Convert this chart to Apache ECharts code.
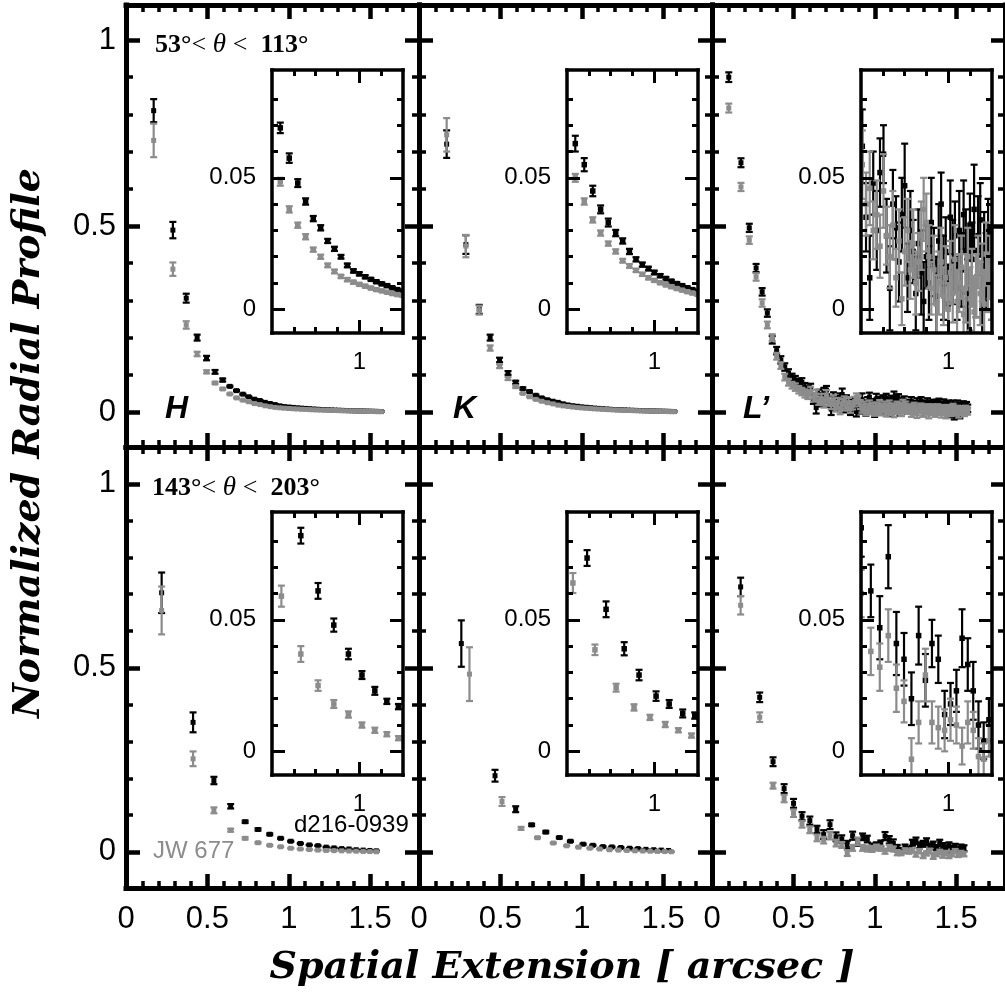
<!DOCTYPE html>
<html><head><meta charset="utf-8">
<script src="https://cdn.jsdelivr.net/npm/echarts@6/dist/echarts.min.js"></script>
<style>html,body{margin:0;padding:0;background:#fff}#c{width:1005px;height:1005px}</style>
</head><body><div id="c"></div>
<script>
// ---------------- DATA ----------------
// tick values
const mainXTicks = [0, 0.5, 1, 1.5];
const mainXMinorTicks = [0.1,0.2,0.3,0.4,0.6,0.7,0.8,0.9,1.1,1.2,1.3,1.4,1.6,1.7];
const mainYTicks = [0, 0.5, 1];
const mainYMinorTicks = [0.1,0.2,0.3,0.4,0.6,0.7,0.8,0.9];
const insetXTicks = [1];
const insetXMinorTicks = [0.7,0.8,0.9,1.1];
const insetYTicks = [0, 0.05];
const insetYMinorTicks = [0.01,0.02,0.03,0.04,0.06,0.07,0.08];

// top row (53 < theta < 113), H and K share radii
const xTopHK = [0.170,0.288,0.370,0.437,0.495,0.547,0.594,0.638,0.679,0.718,
0.754,0.789,0.823,0.855,0.886,0.916,0.945,0.973,1.000,1.027,
1.053,1.078,1.103,1.127,1.151,1.174,1.197,1.219,1.241,1.263,
1.284,1.305,1.326,1.346,1.366,1.385,1.405,1.424,1.443,1.461,
1.480,1.498,1.516,1.533,1.551,1.568];
const hTopBlack = [0.81,0.489,0.306,0.20,0.145,0.108,0.086,
0.069,0.0575,0.048,0.041,0.0345,0.031,0.026,0.023,0.020,0.0167,
0.0146,0.0135,0.0124,0.0114,0.0105,0.0097,0.009,0.0082,0.0075,0.0069,
0.0064,0.006,0.0056,0.0052,0.0048,0.0045,0.0042,0.0039,0.0036,0.0033,
0.003,0.0028,0.0026,0.0024,0.0022,0.002,0.0018,0.0016,0.0015];
const hTopBlackErr = [0.031,0.022,0.012,0.008,0.006,0.005,0.004,0.002,0.0018,0.0015,
0.0012,0.001,0.001,0.0008,0.0008,0.0007,0.0007,0.0006,0.0006,0.0006,
0.0005,0.0005,0.0005,0.0005,0.0004,0.0004,0.0004,0.0004,0.0004,0.0004,
0.0003,0.0003,0.0003,0.0003,0.0003,0.0003,0.0003,0.0003,0.0003,0.0003,
0.0003,0.0003,0.0003,0.0003,0.0003,0.0003];
const hTopGray = [0.73,0.384,0.234,0.156,0.108,0.078,0.062,
0.0485,0.038,0.032,0.0276,0.0227,0.020,0.0167,0.0144,0.0125,0.0113,
0.0103,0.0095,0.0088,0.0081,0.0075,0.007,0.0065,0.006,0.0056,0.0053,
0.005,0.0047,0.0044,0.0041,0.0038,0.0035,0.0032,0.003,0.0028,0.0026,
0.0024,0.0022,0.002,0.0018,0.0016,0.0014,0.0012,0.001,0.0009];
const hTopGrayErr = [0.045,0.018,0.010,0.006,0.004,0.003,0.0025,0.0015,0.0012,0.001,
0.001,0.0008,0.0008,0.0007,0.0007,0.0006,0.0006,0.0006,0.0005,0.0005,
0.0005,0.0005,0.0004,0.0004,0.0004,0.0004,0.0004,0.0004,0.0003,0.0003,
0.0003,0.0003,0.0003,0.0003,0.0003,0.0003,0.0003,0.0003,0.0003,0.0003,
0.0003,0.0003,0.0003,0.0003,0.0003,0.0003];
const kTopBlack = [0.72,0.45,0.276,0.20,0.14,0.105,0.08,
0.063,0.055,0.045,0.038,0.033,0.029,0.026,0.022,0.019,0.017,
0.0155,0.014,0.0128,0.0117,0.0107,0.0098,0.009,0.0082,0.0075,0.0068,
0.0064,0.006,0.0056,0.0052,0.0048,0.0045,0.0042,0.0039,0.0036,0.0033,
0.003,0.0028,0.0026,0.0024,0.0022,0.002,0.0018,0.0016,0.0015];
const kTopBlackErr = [0.037,0.025,0.012,0.008,0.006,0.005,0.004,0.003,0.0025,0.002,
0.0015,0.0015,0.0012,0.001,0.001,0.0008,0.0008,0.0007,0.0007,0.0006,
0.0006,0.0005,0.0005,0.0005,0.0005,0.0004,0.0004,0.0004,0.0004,0.0004,
0.0003,0.0003,0.0003,0.0003,0.0003,0.0003,0.0003,0.0003,0.0003,0.0003,
0.0003,0.0003,0.0003,0.0003,0.0003,0.0003];
const kTopGray = [0.745,0.446,0.274,0.172,0.123,0.09,0.068,
0.050,0.041,0.034,0.029,0.025,0.022,0.0185,0.0165,0.0148,0.0133,
0.012,0.011,0.0101,0.0093,0.0086,0.0079,0.0073,0.0067,0.0062,0.0057,
0.0053,0.0049,0.0045,0.0042,0.0039,0.0036,0.0033,0.003,0.0028,0.0026,
0.0024,0.0022,0.002,0.0018,0.0016,0.0014,0.0012,0.001,0.0009];
const kTopGrayErr = [0.045,0.03,0.012,0.007,0.005,0.004,0.003,0.0015,0.0012,0.001,
0.001,0.0008,0.0008,0.0007,0.0007,0.0006,0.0006,0.0006,0.0005,0.0005,
0.0005,0.0005,0.0004,0.0004,0.0004,0.0004,0.0004,0.0004,0.0003,0.0003,
0.0003,0.0003,0.0003,0.0003,0.0003,0.0003,0.0003,0.0003,0.0003,0.0003,
0.0003,0.0003,0.0003,0.0003,0.0003,0.0003];

const xTopL = [0.103,0.178,0.229,0.271,0.308,0.340,0.370,0.397,0.423,0.447,
0.470,0.492,0.512,0.533,0.552,0.571,0.589,0.606,0.623,0.640,
0.656,0.672,0.687,0.703,0.717,0.732,0.746,0.760,0.774,0.787,
0.800,0.813,0.826,0.839,0.851,0.863,0.876,0.887,0.899,0.911,
0.922,0.934,0.945,0.956,0.967,0.978,0.988,0.999,1.009,1.020,
1.030,1.040,1.050,1.060,1.070,1.080,1.089,1.099,1.108,1.118,
1.127,1.136,1.146,1.155,1.164,1.173,1.182,1.191,1.199,1.208,
1.217,1.225,1.234,1.242,1.251,1.259,1.268,1.276,1.284,1.292,
1.300,1.308,1.316,1.324,1.332,1.340,1.348,1.356,1.363,1.371,
1.379,1.386,1.394,1.401,1.409,1.416,1.424,1.431,1.438,1.446,
1.453,1.460,1.467,1.474,1.481,1.488,1.496,1.503,1.509,1.516,
1.523,1.530,1.537,1.544,1.551,1.557,1.564,1.571];
const lTopBlack = [0.900,0.670,0.495,0.387,0.323,0.266,0.194,0.165,0.140,0.121,
0.105,0.093,0.086,0.078,0.080,0.066,0.059,
0.062,0.035,0.012,0.048,0.030,0.052,0.059,0.028,0.008,0.040,
0.031,0.018,0.036,0.047,0.012,0.030,0.022,0.006,0.025,0.014,
0.003,0.020,0.010,0.033,0.018,0.005,0.026,0.040,0.012,0.022,
0.002,0.035,0.018,0.028,0.008,0.030,0.015,0.036,0.022,0.004,
0.032,0.019,0.038,0.010,0.028,0.034,0.006,0.024,0.014,0.030,
0.018,0.009,
0.022,0.012,0.028,0.016,0.005,0.020,0.025,0.011,0.018,0.030,
0.014,0.008,0.021,0.017,0.026,0.010,0.019,0.013,0.024,0.006,
0.016,0.022,0.011,0.027,0.015,0.009,0.018,0.023,0.012,0.004,
0.017,0.020,0.008,-0.005,0.014,0.019,-0.010,0.006,0.012,0.021,
0.009,-0.006,0.015,0.011,0.018,0.007,0.013,0.016,0.010];
const lTopBlackErr = [0.013,0.012,0.011,0.011,0.010,0.010,0.010,0.010,0.010,0.010,
0.010,0.010,0.011,0.011,0.011,0.012,0.012,
0.014,0.013,0.016,0.012,0.015,0.013,0.011,0.014,0.016,0.013,
0.012,0.015,0.014,0.016,0.013,0.015,0.012,0.014,0.013,0.016,
0.015,0.012,0.014,0.017,0.013,0.015,0.014,0.012,0.016,0.013,
0.015,0.014,0.016,0.013,0.012,0.015,0.014,0.013,0.016,0.015,
0.012,0.014,0.017,0.013,0.015,0.014,0.016,0.013,0.015,0.012,
0.014,0.013,
0.011,0.010,0.012,0.009,0.011,0.010,0.012,0.011,0.009,0.010,
0.012,0.011,0.010,0.009,0.011,0.012,0.010,0.011,0.009,0.010,
0.012,0.011,0.010,0.009,0.011,0.012,0.010,0.011,0.009,0.010,
0.012,0.011,0.010,0.009,0.011,0.012,0.010,0.011,0.009,0.010,
0.012,0.011,0.010,0.009,0.011,0.010,0.012,0.011,0.010];
const lTopGray = [0.817,0.605,0.462,0.363,0.293,0.234,0.200,0.150,0.125,0.094,
0.080,0.072,0.067,0.060,0.055,0.050,0.046,
0.055,0.040,0.046,0.030,0.036,0.024,0.045,0.028,0.020,0.032,
0.012,0.026,0.004,0.022,0.030,0.015,0.025,0.010,0.018,0.028,
0.038,0.033,0.020,0.008,0.015,0.002,0.010,0.018,0.005,0.012,
0.000,0.014,0.006,0.019,0.003,0.010,0.016,-0.002,0.008,0.020,
0.004,0.012,-0.001,0.009,0.018,0.006,0.014,0.002,0.021,0.010,
0.016,0.007,
0.005,0.012,-0.002,0.008,0.015,0.003,-0.005,0.010,0.006,0.014,
0.001,-0.003,0.009,0.004,0.011,-0.006,0.007,0.002,0.013,0.005,
-0.002,0.008,0.012,0.000,0.006,-0.004,0.010,0.003,0.007,-0.008,
0.004,0.009,0.001,-0.003,0.006,0.011,-0.001,0.005,0.002,0.008,
-0.004,0.003,0.007,0.000,0.005,-0.002,0.006,0.004,0.002];
const lTopGrayErr = [0.012,0.011,0.010,0.010,0.010,0.009,0.009,0.009,0.009,0.009,
0.009,0.009,0.010,0.010,0.010,0.011,0.011,
0.013,0.012,0.014,0.011,0.013,0.012,0.014,0.011,0.012,0.013,
0.011,0.012,0.010,0.013,0.012,0.011,0.013,0.012,0.011,0.013,
0.012,0.011,0.012,0.010,0.013,0.011,0.012,0.013,0.011,0.012,
0.010,0.012,0.011,0.013,0.012,0.011,0.012,0.010,0.013,0.011,
0.012,0.011,0.013,0.012,0.010,0.012,0.011,0.013,0.012,0.011,
0.012,0.011,
0.010,0.009,0.011,0.008,0.010,0.009,0.011,0.010,0.008,0.009,
0.011,0.010,0.009,0.008,0.010,0.011,0.009,0.010,0.008,0.009,
0.011,0.010,0.009,0.008,0.010,0.011,0.009,0.010,0.008,0.009,
0.011,0.010,0.009,0.008,0.010,0.011,0.009,0.010,0.008,0.009,
0.011,0.010,0.009,0.008,0.010,0.009,0.011,0.010,0.009];

// bottom row (143 < theta < 203)
const xBotH = [0.219,0.412,0.540,0.643,0.732,0.811,0.883,0.950,1.012,1.071,
1.126,1.179,1.230,1.278,1.325,1.370,1.414,1.457,1.498,1.538];
const hBotBlack = [0.704,0.352,0.194,0.124,0.082,0.061,0.048,0.037,0.029,0.023,
0.019,0.017,0.013,0.011,0.009,0.008,0.006,0.005,0.004,0.003];
const hBotBlackErr = [0.055,0.027,0.010,0.006,0.003,0.003,0.0025,0.002,0.0015,0.0015,
0.001,0.001,0.001,0.0008,0.0008,0.0008,0.0006,0.0006,0.0006,0.0006];
const hBotGray = [0.656,0.253,0.113,0.059,0.037,0.025,0.018,0.014,0.010,0.008,
0.0065,0.005,0.004,0.0035,0.003,0.0025,0.002,0.0015,0.001,0.0005];
const hBotGrayErr = [0.065,0.020,0.008,0.004,0.003,0.002,0.0015,0.0012,0.001,0.001,
0.0008,0.0008,0.0006,0.0006,0.0006,0.0005,0.0005,0.0005,0.0005,0.0005];

const xBotKBlack = [0.26,0.467,0.594,0.692,0.779,0.862,0.930,1.008,1.068,1.130,
1.185,1.240,1.294,1.345,1.394,1.442,1.488,1.533];
const kBotBlack = [0.566,0.207,0.116,0.0735,0.054,0.039,0.029,0.021,0.018,0.0144,
0.0136,0.012,0.010,0.009,0.007,0.006,0.005,0.004];
const kBotBlackErr = [0.063,0.016,0.008,0.003,0.003,0.0025,0.002,0.0018,0.0015,0.0015,
0.0012,0.001,0.001,0.001,0.0008,0.0008,0.0008,0.0008];
const xBotKGray = [0.31,0.51,0.627,0.728,0.825,0.907,0.980,1.050,1.110,1.170,
1.225,1.277,1.327,1.375,1.420,1.465,1.510,1.550];
const kBotGray = [0.483,0.137,0.064,0.0386,0.0242,0.0167,0.0129,0.0102,0.008,0.006,
0.005,0.004,0.003,0.0025,0.002,0.0015,0.001,0.0005];
const kBotGrayErr = [0.073,0.012,0.0038,0.002,0.0015,0.0012,0.001,0.001,0.0008,0.0008,
0.0008,0.0006,0.0006,0.0006,0.0005,0.0005,0.0005,0.0005];

const xBotL = [0.176,0.293,0.375,0.443,0.501,0.553,0.601,0.645,0.686,0.725,
0.762,0.797,0.831,0.864,0.895,0.925,0.954,0.983,1.010,1.037,
1.063,1.089,1.114,1.138,1.162,1.186,1.209,1.231,1.253,1.275,
1.297,1.318,1.338,1.359,1.379,1.399,1.418,1.437,1.456,1.475,
1.494,1.512,1.530,1.548];
const lBotBlack = [0.72,0.42,0.245,0.172,0.132,0.097,0.085,
0.061,0.047,0.074,0.041,0.035,0.020,0.044,0.027,0.041,0.035,
0.014,0.018,0.023,0.043,0.033,0.023,0.010,0.004,0.012,0.006,
0.025,0.030,0.018,0.022,0.028,0.015,0.020,0.012,0.024,0.016,
0.010,0.019,0.008,0.014,0.006,0.012,0.010];
const lBotBlackErr = [0.025,0.013,0.012,0.012,0.012,0.011,0.011,
0.010,0.012,0.012,0.012,0.010,0.010,0.011,0.010,0.009,0.009,
0.009,0.008,0.008,0.011,0.010,0.011,0.009,0.007,0.008,0.008,
0.008,0.009,0.008,0.008,0.009,0.008,0.008,0.007,0.009,0.008,
0.008,0.007,0.008,0.008,0.007,0.008,0.008];
const lBotGray = [0.67,0.366,0.18,0.145,0.105,0.075,0.06,
0.038,0.032,0.044,0.024,0.019,-0.003,0.011,0.029,0.011,0.009,
0.008,0.012,0.010,0.002,0.011,0.008,-0.002,-0.003,0.004,0.001,
0.004,-0.006,0.002,-0.010,-0.004,0.003,-0.012,-0.006,0.000,-0.009,
-0.003,-0.011,-0.005,0.002,-0.008,-0.004,-0.006];
const lBotGrayErr = [0.025,0.013,0.008,0.010,0.010,0.009,0.009,
0.009,0.009,0.010,0.009,0.008,0.008,0.008,0.010,0.008,0.008,
0.008,0.008,0.007,0.007,0.008,0.007,0.007,0.006,0.006,0.006,
0.006,0.007,0.006,0.007,0.006,0.006,0.007,0.006,0.006,0.007,
0.006,0.006,0.007,0.006,0.006,0.007,0.006];

// ---------------- LAYOUT / STYLE ----------------
const BLACK = '#000000', GRAY = '#8c8c8c';
const FONT = 'Liberation Sans';
const TITLE_FONT = '"DejaVu Serif", "Liberation Serif", serif';
const colLeft = [126, 419, 712], colW = 293;
const rowTop = [5, 447], rowH = [442, 441];
const mainX = [0, 1.8];
const mainY = [[-0.094, 1.094], [-0.098, 1.1]];
const insLeft = [272, 567, 861], insW = 131;
const insTop = [70, 512], insH = 263;
const insX = [0.6, 1.2], insY = [-0.009, 0.091];

const grids = [], xAxes = [], yAxes = [], series = [];

function mkAxis(g, pos, r, ticks, labels, st, major) {
  return {
    gridIndex: g, type: 'value', position: pos, min: r[0], max: r[1],
    axisLine: { show: major, onZero: false, lineStyle: { color: '#000', width: st.frameW, cap: 'square' } },
    axisTick: { show: true, inside: true, customValues: ticks,
      length: major ? st.majLen : st.minLen,
      lineStyle: { color: '#000', width: major ? st.majW : st.minW } },
    axisLabel: labels ? { show: true, customValues: labels, fontSize: st.fs, color: '#000',
      fontFamily: FONT, margin: (pos === 'left' || pos === 'right') ? st.yMargin : st.xMargin } : { show: false },
    splitLine: { show: false }, minorTick: { show: false }, minorSplitLine: { show: false },
    silent: true, z: 5
  };
}

function addPanel(box, xr, yr, st, showX, showY) {
  const g = grids.length;
  grids.push({ left: box.l, top: box.t, width: box.w, height: box.h,
    show: st.bg, backgroundColor: '#fff', borderWidth: 0, containLabel: false });
  const xi = xAxes.length;
  xAxes.push(mkAxis(g, 'bottom', xr, st.xMajor, showX ? st.xMajor : null, st, true));
  xAxes.push(mkAxis(g, 'bottom', xr, st.xMinor, null, st, false));
  xAxes.push(mkAxis(g, 'top', xr, st.xMajor, null, st, true));
  xAxes.push(mkAxis(g, 'top', xr, st.xMinor, null, st, false));
  const yi = yAxes.length;
  yAxes.push(mkAxis(g, 'left', yr, st.yMajor, showY ? st.yMajor : null, st, true));
  yAxes.push(mkAxis(g, 'left', yr, st.yMinor, null, st, false));
  yAxes.push(mkAxis(g, 'right', yr, st.yMajor, null, st, true));
  yAxes.push(mkAxis(g, 'right', yr, st.yMinor, null, st, false));
  return { xi, yi };
}

function makeRender(ms, cap, lw) {
  return function (params, api) {
    const x = api.value(0), y = api.value(1), e = api.value(2);
    const p = api.coord([x, y]), a = api.coord([x, y + e]), b = api.coord([x, y - e]);
    const cs = params.coordSys;
    const top = cs.y, bottom = cs.y + cs.height;
    const c = api.visual('color');
    const kids = [];
    const y1 = Math.max(a[1], top), y2 = Math.min(b[1], bottom);
    if (y2 > y1) kids.push({ type: 'line', shape: { x1: p[0], y1: y1, x2: p[0], y2: y2 }, style: { stroke: c, lineWidth: lw } });
    if (a[1] >= top && a[1] <= bottom) kids.push({ type: 'line', shape: { x1: p[0] - cap, y1: a[1], x2: p[0] + cap, y2: a[1] }, style: { stroke: c, lineWidth: lw } });
    if (b[1] <= bottom && b[1] >= top) kids.push({ type: 'line', shape: { x1: p[0] - cap, y1: b[1], x2: p[0] + cap, y2: b[1] }, style: { stroke: c, lineWidth: lw } });
    if (p[1] >= top && p[1] <= bottom) kids.push({ type: 'rect', shape: { x: p[0] - ms / 2, y: p[1] - ms / 2, width: ms, height: ms }, style: { fill: c } });
    return { type: 'group', children: kids };
  };
}

function addErr(ax, xs, ys, es, color, inset) {
  let data = xs.map((x, i) => [x, ys[i], es[i] || 0]);
  if (inset) data = data.filter(d => d[0] >= insX[0] && d[0] <= insX[1]);
  series.push({
    type: 'custom', xAxisIndex: ax.xi, yAxisIndex: ax.yi, clip: true, silent: true,
    renderItem: inset ? makeRender(5.5, 3.5, 2.2) : makeRender(5, 3.5, 2.2),
    itemStyle: { color: color }, data: data, z: 3, animation: false
  });
}

const mainStyle = { bg: false, frameW: 5, majLen: 14, minLen: 7, majW: 4.5, minW: 3.5,
  xMajor: mainXTicks, xMinor: mainXMinorTicks, yMajor: mainYTicks, yMinor: mainYMinorTicks,
  fs: 31, xMargin: 16, yMargin: 10 };
const insStyle = { bg: true, frameW: 3.5, majLen: 13, minLen: 6, majW: 3, minW: 3,
  xMajor: insetXTicks, xMinor: insetXMinorTicks, yMajor: insetYTicks, yMinor: insetYMinorTicks,
  fs: 24, xMargin: 17, yMargin: 16 };

const panels = [
  [ // top row
    { bx: xTopHK, b: hTopBlack, be: hTopBlackErr, gx: xTopHK, g: hTopGray, ge: hTopGrayErr },
    { bx: xTopHK, b: kTopBlack, be: kTopBlackErr, gx: xTopHK, g: kTopGray, ge: kTopGrayErr },
    { bx: xTopL, b: lTopBlack, be: lTopBlackErr, gx: xTopL, g: lTopGray, ge: lTopGrayErr }
  ],
  [ // bottom row
    { bx: xBotH, b: hBotBlack, be: hBotBlackErr, gx: xBotH, g: hBotGray, ge: hBotGrayErr },
    { bx: xBotKBlack, b: kBotBlack, be: kBotBlackErr, gx: xBotKGray, g: kBotGray, ge: kBotGrayErr },
    { bx: xBotL, b: lBotBlack, be: lBotBlackErr, gx: xBotL, g: lBotGray, ge: lBotGrayErr }
  ]
];

for (let r = 0; r < 2; r++) {
  for (let c = 0; c < 3; c++) {
    const P = panels[r][c];
    const m = addPanel({ l: colLeft[c], t: rowTop[r], w: colW, h: rowH[r] }, mainX, mainY[r], mainStyle, r === 1, c === 0);
    addErr(m, P.bx, P.b, P.be, BLACK, false);
    addErr(m, P.gx, P.g, P.ge, GRAY, false);
  }
}
for (let r = 0; r < 2; r++) {
  for (let c = 0; c < 3; c++) {
    const P = panels[r][c];
    const ins = addPanel({ l: insLeft[c], t: insTop[r], w: insW, h: insH }, insX, insY, insStyle, true, true);
    addErr(ins, P.bx, P.b, P.be, BLACK, true);
    addErr(ins, P.gx, P.g, P.ge, GRAY, true);
  }
}

function angleText(x, y, a, b) {
  return { type: 'text', x: x, y: y, z: 10, silent: true,
    style: { text: '{b|' + a + '°}{n|<}{i| θ }{n|<  }{b|' + b + '°}',
      verticalAlign: 'middle', textVerticalAlign: 'middle', align: 'left',
      rich: {
        b: { font: 'bold 26px "Liberation Serif"', fill: '#000', color: '#000' },
        n: { font: '26px "Liberation Serif"', fill: '#000', color: '#000' },
        i: { font: 'italic 27px "Liberation Serif"', fill: '#000', color: '#000' }
      } } };
}
function txt(x, y, s, font, color, align, rot) {
  return { type: 'text', x: x, y: y, z: 10, silent: true, rotation: rot || 0,
    style: { text: s, font: font, fill: color, align: align || 'left', textAlign: align || 'left',
      verticalAlign: 'middle', textVerticalAlign: 'middle' } };
}

const option = {
  animation: false,
  backgroundColor: '#fff',
  grid: grids, xAxis: xAxes, yAxis: yAxes, series: series,
  graphic: [
    angleText(155, 45, '53', '113'),
    angleText(152, 488, '143', '203'),
    txt(165, 409, 'H', 'italic bold 32px "Liberation Sans"', '#000'),
    txt(453, 409, 'K', 'italic bold 32px "Liberation Sans"', '#000'),
    txt(743, 409, 'L\u2019', 'italic bold 32px "Liberation Sans"', '#000'),
    txt(294, 825, 'd216-0939', '24px "Liberation Sans"', '#000'),
    txt(153, 851, 'JW 677', '24px "Liberation Sans"', GRAY),
    txt(29, 443, 'Normalized Radial Profile', 'italic bold 38px ' + TITLE_FONT, '#000', 'center', Math.PI / 2),
    txt(562, 968, 'Spatial Extension [ arcsec ]', 'italic bold 38px ' + TITLE_FONT, '#000', 'center')
  ]
};

const chart = echarts.init(document.getElementById('c'), null, { renderer: 'canvas' });
chart.setOption(option);
</script>
</body></html>
